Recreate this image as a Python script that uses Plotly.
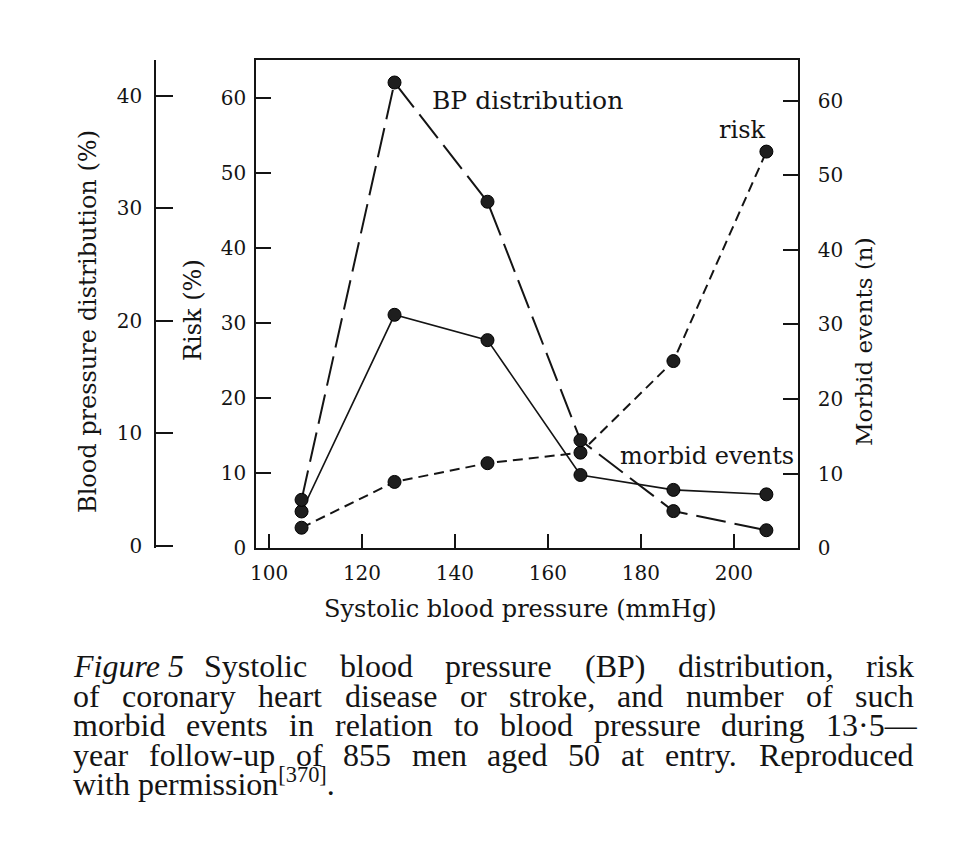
import plotly.graph_objects as go

# ---------------- data ----------------
sbp = [107, 127, 147, 167, 187, 207]                 # systolic BP class midpoints (mmHg)
bp_distribution = [4.1, 41.2, 30.6, 9.4, 3.1, 1.4]   # %
risk = [2.7, 8.8, 11.3, 12.7, 24.9, 52.8]            # %
morbid_events = [4.9, 31.3, 27.9, 9.8, 7.8, 7.2]     # n
x_ticks = [100, 120, 140, 160, 180, 200]
risk_ticks = [0, 10, 20, 30, 40, 50, 60]
bp_ticks = [0, 10, 20, 30, 40]
morbid_ticks = [0, 10, 20, 30, 40, 50, 60]

caption_lines = [
    "Systolic blood pressure (BP) distribution, risk",
    "of coronary heart disease or stroke, and number of such",
    "morbid events in relation to blood pressure during 13\u00b75\u2014",
    "year follow-up of 855 men aged 50 at entry. Reproduced",
]

# ---------------- geometry helpers ----------------
# page has an 8px body margin; the figure is placed at (8, 8)
OFF = 8
W, H = 956 - 2 * OFF, 866 - 2 * OFF
P_L, P_R, P_T, P_B = 40, 916, 60, 548          # paper rectangle in page pixels
ML, MT = P_L - OFF, P_T - OFF
MR, MB = W - (P_R - OFF), H - (P_B - OFF)
PW, PH = P_R - P_L, P_B - P_T


def px(x):
    return (x - P_L) / PW


def py(y):
    return 1 - (y - P_T) / PH


INK = "#141414"
SERIF = "DejaVu Serif"
CAP = "Liberation Serif"

fig = go.Figure()

marker = dict(size=13, color="#1e1e1e", line=dict(color="#000", width=1))

fig.add_trace(go.Scatter(x=sbp, y=bp_distribution, yaxis="y3", mode="lines+markers",
                         line=dict(color=INK, width=2, dash="30px,9px"), marker=marker,
                         name="BP distribution", showlegend=False))
fig.add_trace(go.Scatter(x=sbp, y=risk, yaxis="y", mode="lines+markers",
                         line=dict(color=INK, width=2, dash="10px,6px"), marker=marker,
                         name="risk", showlegend=False))
fig.add_trace(go.Scatter(x=sbp, y=morbid_events, yaxis="y2", mode="lines+markers",
                         line=dict(color=INK, width=1.6), marker=marker,
                         name="morbid events", showlegend=False))

tickfont = dict(family=SERIF, size=20, color=INK)
common = dict(showgrid=False, zeroline=False, showline=True, linecolor=INK, linewidth=1.6,
              ticks="inside", tickcolor=INK, tickwidth=1.5, tickfont=tickfont)

fig.update_layout(
    width=W, height=H,
    margin=dict(l=ML, r=MR, t=MT, b=MB),
    paper_bgcolor="white", plot_bgcolor="white",
    xaxis=dict(domain=[px(256), px(798)], range=[97.2, 213.8], tickvals=x_ticks,
               ticklen=14, mirror=True, ticklabelstandoff=6, **common),
    yaxis=dict(range=[0, 65], tickvals=risk_ticks, ticklen=15, side="left", anchor="x",
               ticklabelstandoff=4, **common),
    yaxis2=dict(range=[0, 65.5], tickvals=morbid_ticks, ticklen=15, side="right", anchor="x",
                overlaying="y", ticklabelstandoff=14, **common),
    yaxis3=dict(range=[-0.18, 43.2], tickvals=bp_ticks, ticklen=17, side="left", anchor="free",
                position=px(155), overlaying="y", ticklabelstandoff=8, **common),
)

ann = []


def label(text, x, y, size=24, xanchor="center", yanchor="middle", angle=0, family=SERIF):
    ann.append(dict(text=text, x=px(x), y=py(y), xref="paper", yref="paper",
                    xanchor=xanchor, yanchor=yanchor, textangle=angle, showarrow=False,
                    font=dict(family=family, size=size, color=INK)))


# axis titles
label("Blood pressure distribution (%)", 88, 322, size=24, angle=-90)
label("Risk (%)", 193, 310, size=24, angle=-90)
label("Morbid events (n)", 864, 342, size=23, angle=-90)
label("Systolic blood pressure (mmHg)", 520, 609, size=24)

# in-plot labels
label("BP distribution", 430, 101, size=25, xanchor="left")
label("risk", 742, 130, size=24)
label("morbid events", 796, 456, size=24, xanchor="right")

# ---------------- caption (justified) ----------------
TW = {' ': 250, '(': 333, ')': 333, ',': 250, '-': 333, '.': 250, '[': 333, ']': 333,
      '\u00b7': 250, '\u2014': 1000,
      'A': 722, 'B': 667, 'C': 667, 'D': 722, 'E': 611, 'F': 556, 'G': 722, 'H': 722, 'I': 333,
      'M': 889, 'N': 722, 'O': 722, 'P': 556, 'R': 667, 'S': 556, 'T': 611,
      'a': 444, 'b': 500, 'c': 444, 'd': 500, 'e': 444, 'f': 333, 'g': 500, 'h': 500, 'i': 278,
      'j': 278, 'k': 500, 'l': 278, 'm': 778, 'n': 500, 'o': 500, 'p': 500, 'q': 500, 'r': 333,
      's': 389, 't': 278, 'u': 500, 'v': 500, 'w': 722, 'x': 500, 'y': 500, 'z': 444}


def tw(s, f):
    return sum(TW.get(c, 500) for c in s) / 1000.0 * f


CF = 32
centers = [666, 695.5, 725, 754.5, 782]


def justify(line, x0, x1, cy):
    words = line.split(" ")
    total = sum(tw(w, CF) for w in words)
    gap = (x1 - x0 - total) / (len(words) - 1)
    x = x0
    for w in words:
        label(w, x - 1, cy, size=CF, xanchor="left", family=CAP)
        x += tw(w, CF) + gap


label("<i>Figure 5</i>", 71, centers[0], size=CF, xanchor="left", family=CAP)
justify(caption_lines[0], 203, 913, centers[0])
for i in range(1, 4):
    justify(caption_lines[i], 72, 913, centers[i])
label("with permission<sup>[370]</sup>.", 71, centers[4], size=CF, xanchor="left", family=CAP)

fig.update_layout(annotations=ann)
fig.write_html("out.html")
